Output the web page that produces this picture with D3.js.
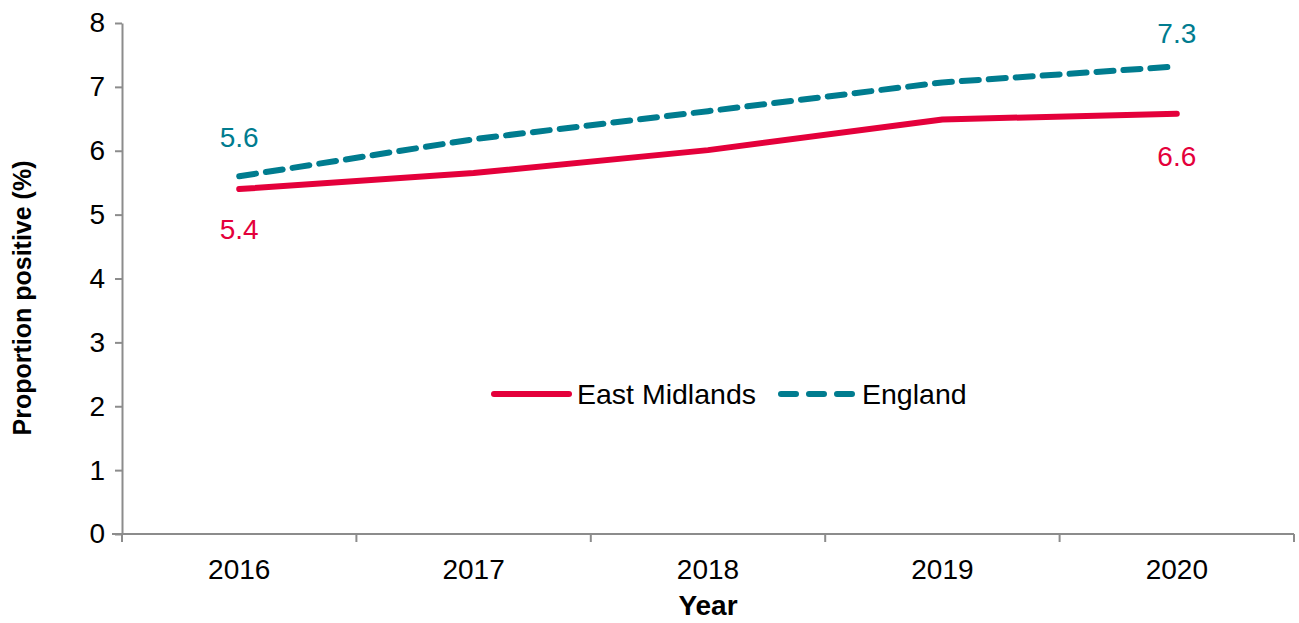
<!DOCTYPE html>
<html>
<head>
<meta charset="utf-8">
<script src="https://cdn.jsdelivr.net/npm/d3@7"></script>
<style>
  body { margin: 0; background: #fff; }
  text { font-family: "Liberation Sans", Arial, sans-serif; }
</style>
</head>
<body>
<script>
let years = ["2016", "2017", "2018", "2019", "2020"];
let eastMidlands = [5.4, 5.65, 6.01, 6.49, 6.58];
let england = [5.6, 6.18, 6.62, 7.07, 7.32];
let yTicks = [0, 1, 2, 3, 4, 5, 6, 7, 8];

let width = 1299, height = 623;
let plotLeft = 122, plotRight = 1294, plotTop = 23, plotBottom = 534;

let svg = d3.select("body")
    .append("svg")
    .attr("width", width)
    .attr("height", height);

let x = d3.scaleBand().domain(years).range([plotLeft, plotRight]);
let y = d3.scaleLinear().domain([0, 8]).range([plotBottom, plotTop]);

let axisColor = "#8c8c8c";

// y axis
let yAxis = svg.append("g")
    .attr("transform", `translate(${plotLeft},0)`)
    .call(d3.axisLeft(y).tickValues(yTicks).tickSize(7).tickPadding(10).tickSizeOuter(0));
yAxis.select(".domain").attr("stroke", axisColor).attr("stroke-width", 2);
yAxis.selectAll(".tick line").attr("stroke", axisColor).attr("stroke-width", 2);
yAxis.selectAll(".tick text")
    .attr("font-size", 28)
    .attr("fill", "#000");

// x axis
let xAxis = svg.append("g")
    .attr("transform", `translate(0,${plotBottom})`)
    .call(d3.axisBottom(x).tickSize(0).tickPadding(25));
xAxis.select(".domain").attr("stroke", axisColor).attr("stroke-width", 2)
    .attr("d", `M${plotLeft - 10},0H${plotRight}`);
xAxis.selectAll(".tick text")
    .attr("font-size", 28)
    .attr("fill", "#000");

// tick marks between categories
let bounds = years.map(d => x(d)).concat([plotRight]);
svg.append("g").selectAll("line")
    .data(bounds)
    .join("line")
    .attr("x1", d => d).attr("x2", d => d)
    .attr("y1", plotBottom).attr("y2", plotBottom + 8)
    .attr("stroke", axisColor)
    .attr("stroke-width", 2);

// axis titles
svg.append("text")
    .attr("transform", `translate(31,298) rotate(-90)`)
    .attr("text-anchor", "middle")
    .attr("font-size", 25)
    .attr("font-weight", "bold")
    .text("Proportion positive (%)");

svg.append("text")
    .attr("x", (plotLeft + plotRight) / 2)
    .attr("y", 615)
    .attr("text-anchor", "middle")
    .attr("font-size", 28)
    .attr("font-weight", "bold")
    .text("Year");

let cx = d => x(d) + x.bandwidth() / 2;

let series = [
    { name: "East Midlands", values: eastMidlands, color: "#e4003b", dash: null },
    { name: "England", values: england, color: "#007c8f", dash: "17,10" }
];

let line = d3.line()
    .x((d, i) => cx(years[i]))
    .y(d => y(d));

series.forEach(s => {
    svg.append("path")
        .attr("d", line(s.values))
        .attr("fill", "none")
        .attr("stroke", s.color)
        .attr("stroke-width", 6)
        .attr("stroke-linecap", "round")
        .attr("stroke-linejoin", "round")
        .attr("stroke-dasharray", s.dash);
});

// data labels at first and last points
let lab = (s, i, dy) => {
    svg.append("text")
        .attr("x", cx(years[i]))
        .attr("y", y(s.values[i]) + dy)
        .attr("text-anchor", "middle")
        .attr("font-size", 28)
        .attr("fill", s.color)
        .text(s.values[i].toFixed(1));
};
lab(series[1], 0, -29);
lab(series[0], 0, 50);
lab(series[1], 4, -23);
lab(series[0], 4, 52);

// legend
let legend = [
    { s: series[0], x1: 494, x2: 569, tx: 577 },
    { s: series[1], x1: 781, x2: 854, tx: 862 }
];
legend.forEach(l => {
    svg.append("line")
        .attr("x1", l.x1).attr("x2", l.x2)
        .attr("y1", 394).attr("y2", 394)
        .attr("stroke", l.s.color)
        .attr("stroke-width", 6)
        .attr("stroke-linecap", "round")
        .attr("stroke-dasharray", l.s.dash ? "15,13" : null);
    svg.append("text")
        .attr("x", l.tx)
        .attr("y", 404)
        .attr("font-size", 28.5)
        .text(l.s.name);
});
</script>
</body>
</html>
